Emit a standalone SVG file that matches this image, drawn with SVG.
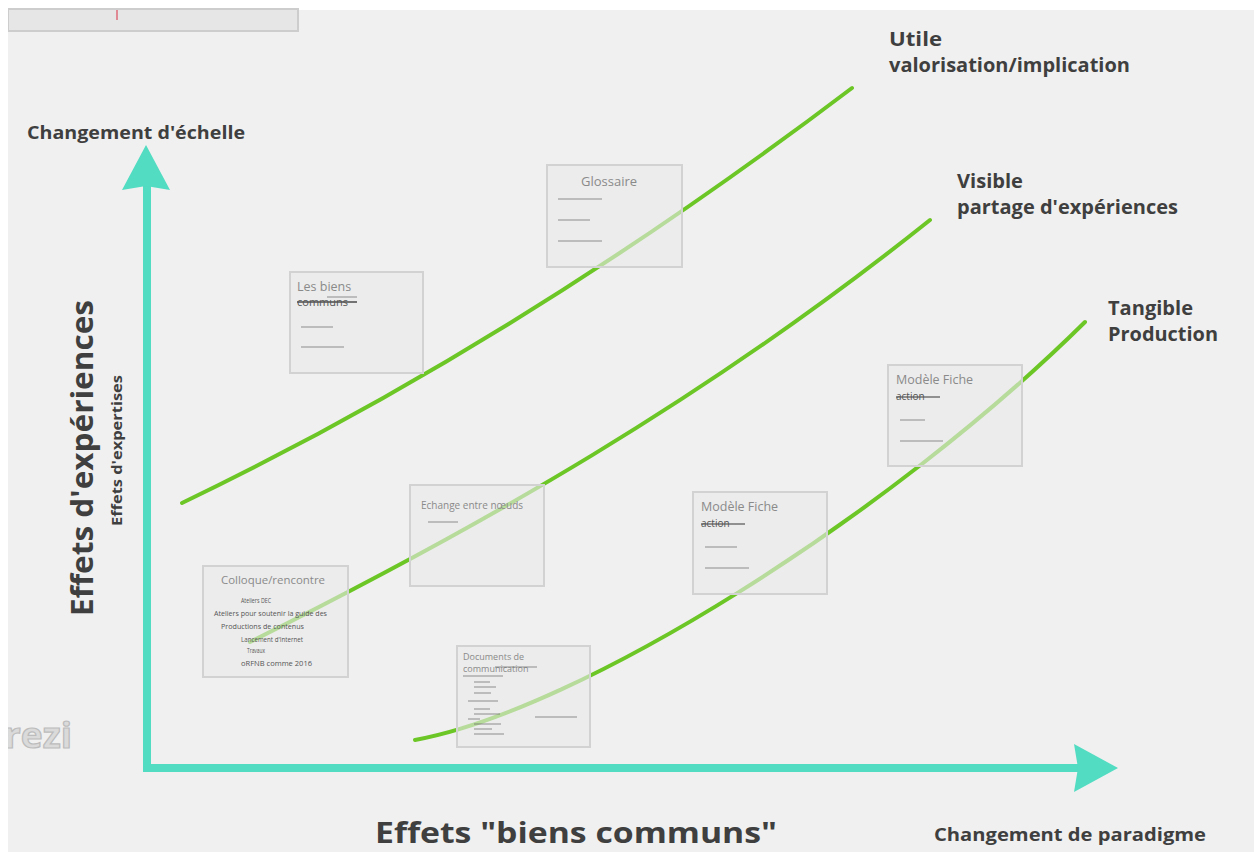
<svg xmlns="http://www.w3.org/2000/svg" width="1254" height="852" viewBox="0 0 1254 852">
<defs>
<style>
.bg{fill:#f0f0f0}
.lbl{font-family:"Open Sans","Liberation Sans",sans-serif;font-weight:700;fill:#3f3f3f}
.axis{stroke:#52dcc2;stroke-width:8;fill:none;stroke-linecap:square}
.head{fill:#52dcc2}
.curve{stroke:#6cc626;stroke-width:4;fill:none;stroke-linecap:round}
.card{fill:#e9e9e9;fill-opacity:0.6;stroke:#d2d2d2;stroke-width:2}
.ttl{font-family:"Open Sans","Liberation Sans",sans-serif;fill:#8a8a8a}
.sub{font-family:"Open Sans","Liberation Sans",sans-serif;fill:#555}
.scrib{stroke:#666;stroke-width:1;opacity:0.7}
</style>
</defs>
<rect class="bg" x="0" y="0" width="1254" height="852"/>
<rect x="0" y="0" width="1254" height="10" fill="#ffffff"/>
<g id="top-panel">
<rect x="8" y="9" width="290" height="22" fill="#e6e6e6" stroke="#cdcdcd" stroke-width="2"/>
<line x1="117" y1="10" x2="117" y2="20" stroke="#e08a96" stroke-width="2"/>
</g>
<g id="rezi">
<text x="4" y="748" font-family="Open Sans, Liberation Sans, sans-serif" font-weight="700" font-size="35" fill="#dadada" stroke="#bcbcbc" stroke-width="1.2" textLength="68" lengthAdjust="spacingAndGlyphs">rezi</text>
</g>
<rect x="0" y="0" width="8" height="852" fill="#ffffff"/>

<g id="connectors">
<path class="curve" d="M182,503 C405,396 629,257 852,88"/>
<path class="curve" d="M250,642 C480,527 705,400 930,220"/>
<path class="curve" d="M415,740 C580,710 890,515 1085,322"/>
</g>

<g id="axes">
<line class="axis" x1="147" y1="768" x2="147" y2="185"/>
<polygon class="head" points="146,145 170,190 146,186 122,190"/>
<line class="axis" x1="147" y1="768" x2="1080" y2="768"/>
<polygon class="head" points="1118,768 1074,744 1078,768 1074,792"/>
</g>

<g id="node-glossaire">
<rect class="card" x="547" y="165" width="135" height="102"/>
<text class="ttl" x="609" y="186" font-size="13" text-anchor="middle">Glossaire</text>
<line class="scrib" x1="558" y1="199" x2="602" y2="199"/>
<line class="scrib" x1="558" y1="220" x2="590" y2="220"/>
<line class="scrib" x1="558" y1="241" x2="602" y2="241"/>
</g>

<g id="node-biens">
<rect class="card" x="290" y="272" width="133" height="101"/>
<text class="ttl" x="297" y="291" font-size="12.5">Les biens</text>
<text class="sub" x="297" y="306" font-size="11" fill="#666">communs</text>
<line x1="297" y1="302" x2="357" y2="302" stroke="#555" stroke-width="2" opacity="0.8"/>
<line class="scrib" x1="327" y1="297" x2="357" y2="297"/>
<line class="scrib" x1="301" y1="327" x2="333" y2="327"/>
<line class="scrib" x1="301" y1="347" x2="344" y2="347"/>
</g>

<g id="node-fiche1">
<rect class="card" x="888" y="365" width="134" height="101"/>
<text class="ttl" x="896" y="384" font-size="12.5">Modèle Fiche</text>
<text class="sub" x="896" y="400" font-size="10" fill="#555">action</text>
<line x1="896" y1="397" x2="940" y2="397" stroke="#555" stroke-width="1.5" opacity="0.8"/>
<line class="scrib" x1="900" y1="420" x2="925" y2="420"/>
<line class="scrib" x1="900" y1="441" x2="943" y2="441"/>
</g>

<g id="node-fiche2">
<rect class="card" x="693" y="492" width="134" height="102"/>
<text class="ttl" x="701" y="511" font-size="12.5">Modèle Fiche</text>
<text class="sub" x="701" y="527" font-size="10" fill="#555">action</text>
<line x1="701" y1="524" x2="745" y2="524" stroke="#555" stroke-width="1.5" opacity="0.8"/>
<line class="scrib" x1="705" y1="547" x2="737" y2="547"/>
<line class="scrib" x1="705" y1="568" x2="749" y2="568"/>
</g>

<g id="node-echange">
<rect class="card" x="410" y="485" width="134" height="101"/>
<text class="ttl" x="421" y="509" font-size="10" fill="#777">Echange entre nœuds</text>
<line class="scrib" x1="428" y1="522" x2="458" y2="522"/>
</g>

<g id="node-colloque">
<rect class="card" x="203" y="566" width="145" height="111"/>
<text class="ttl" x="221" y="584" font-size="11" fill="#666" textLength="104" lengthAdjust="spacingAndGlyphs">Colloque/rencontre</text>
<text class="sub" x="241" y="603" font-size="7" textLength="30" lengthAdjust="spacingAndGlyphs">Ateliers DEC</text>
<text class="sub" x="214" y="616" font-size="7" textLength="113" lengthAdjust="spacingAndGlyphs">Ateliers pour soutenir la guide des</text>
<text class="sub" x="221" y="629" font-size="7" textLength="83" lengthAdjust="spacingAndGlyphs">Productions de contenus</text>
<text class="sub" x="241" y="642" font-size="7" textLength="62" lengthAdjust="spacingAndGlyphs">Lancement d'Internet</text>
<text class="sub" x="247" y="653" font-size="7" textLength="18" lengthAdjust="spacingAndGlyphs">Travaux</text>
<text class="sub" x="241" y="666" font-size="7" textLength="71" lengthAdjust="spacingAndGlyphs">oRFNB comme 2016</text>
</g>

<g id="node-documents">
<rect class="card" x="457" y="646" width="133" height="101"/>
<text class="ttl" x="463" y="660" font-size="9" fill="#666">Documents de</text>
<text class="ttl" x="463" y="672" font-size="9" fill="#666">communication</text>
<line class="scrib" x1="495" y1="667" x2="537" y2="667"/>
<line class="scrib" x1="463" y1="676" x2="503" y2="676"/>
<line class="scrib" x1="474" y1="682" x2="490" y2="682"/>
<line class="scrib" x1="474" y1="687" x2="496" y2="687"/>
<line class="scrib" x1="474" y1="693" x2="491" y2="693"/>
<line class="scrib" x1="468" y1="701" x2="498" y2="701"/>
<line class="scrib" x1="474" y1="709" x2="490" y2="709"/>
<line class="scrib" x1="474" y1="714" x2="500" y2="714"/>
<line class="scrib" x1="468" y1="719" x2="480" y2="719"/>
<line class="scrib" x1="474" y1="724" x2="501" y2="724"/>
<line class="scrib" x1="474" y1="729" x2="492" y2="729"/>
<line class="scrib" x1="474" y1="734" x2="504" y2="734"/>
<line class="scrib" x1="535" y1="717" x2="577" y2="717"/>
</g>

<g id="labels">
<text class="lbl" x="27" y="139" font-size="18" textLength="218" lengthAdjust="spacingAndGlyphs">Changement d'échelle</text>
<text class="lbl" x="889" y="46" font-size="20" textLength="53" lengthAdjust="spacingAndGlyphs">Utile</text>
<text class="lbl" x="889" y="72" font-size="20" textLength="241" lengthAdjust="spacingAndGlyphs">valorisation/implication</text>
<text class="lbl" x="957" y="188" font-size="20" textLength="66" lengthAdjust="spacingAndGlyphs">Visible</text>
<text class="lbl" x="957" y="214" font-size="20" textLength="221" lengthAdjust="spacingAndGlyphs">partage d'expériences</text>
<text class="lbl" x="1108" y="315" font-size="20" textLength="85" lengthAdjust="spacingAndGlyphs">Tangible</text>
<text class="lbl" x="1108" y="341" font-size="20" textLength="110" lengthAdjust="spacingAndGlyphs">Production</text>
<text class="lbl" transform="translate(93,616) rotate(-90)" font-size="30" textLength="316" lengthAdjust="spacingAndGlyphs">Effets d'expériences</text>
<text class="lbl" transform="translate(122,526) rotate(-90)" font-size="14" textLength="151" lengthAdjust="spacingAndGlyphs">Effets d'expertises</text>
<text class="lbl" x="375" y="843" font-size="29" textLength="402" lengthAdjust="spacingAndGlyphs">Effets "biens communs"</text>
<text class="lbl" x="934" y="841" font-size="17" textLength="272" lengthAdjust="spacingAndGlyphs">Changement de paradigme</text>
</g>
</svg>
